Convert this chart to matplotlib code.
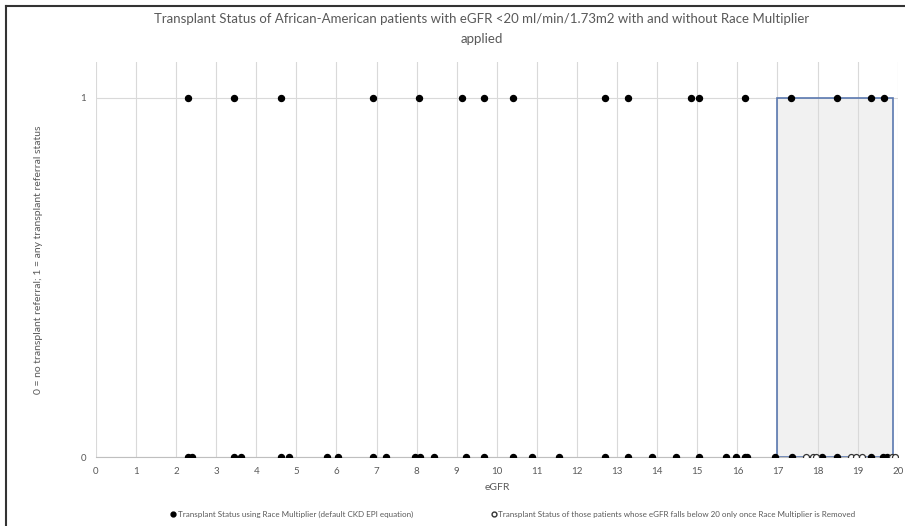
import matplotlib.pyplot as plt
from matplotlib.patches import Rectangle
from matplotlib.lines import Line2D

# eGFR of patients, split by transplant status (race multiplier applied)
egfr_status1 = [2.30, 3.45, 4.61, 6.92, 8.06, 9.14, 9.67, 10.41, 12.71, 13.28,
                14.84, 15.03, 16.18, 17.34, 18.48, 19.33, 19.65]
egfr_status0 = [2.30, 2.40, 3.45, 3.62, 4.61, 4.82, 5.77, 6.03, 6.92, 7.23,
                7.96, 8.08, 8.44, 9.22, 9.67, 10.41, 10.87, 11.55, 12.71, 13.28,
                13.87, 14.48, 15.03, 15.72, 15.96, 16.19, 16.24, 16.95, 17.36,
                18.10, 18.48, 19.33, 19.63, 19.72]
# patients below 20 only once the race multiplier is removed (all status 0)
egfr_removed = [17.72, 17.88, 17.97, 18.83, 18.97, 19.12, 19.85, 19.93]

box_lo, box_hi = 17, 19.88
x_ticks = list(range(0, 21))
y_ticks = [0, 1]

title = ("Transplant Status of African-American patients with eGFR <20 ml/min/1.73m2 "
         "with and without Race Multiplier\napplied")
label_1 = "Transplant Status using Race Multiplier (default CKD EPI equation)"
label_2 = "Transplant Status of those patients whose eGFR falls below 20 only once Race Multiplier is Removed"

plt.rcParams['font.family'] = ['Lato', 'DejaVu Sans']
gray = '#595959'

fig = plt.figure(figsize=(9.05, 5.26), dpi=100)
ax = fig.add_axes([0.106, 0.131, 0.886, 0.751])

# highlighted region
ax.add_patch(Rectangle((box_lo, 0), box_hi - box_lo, 1, facecolor='#d9d9d9', alpha=0.35,
                       edgecolor='none', zorder=1))
ax.add_patch(Rectangle((box_lo, 0), box_hi - box_lo, 1, facecolor='none',
                       edgecolor='#5a78b0', lw=1.2, zorder=2))

ax.plot(egfr_status1, [1] * len(egfr_status1), 'o', color='black', ms=4.3, zorder=4)
ax.plot(egfr_status0, [0] * len(egfr_status0), 'o', color='black', ms=4.3, zorder=4)
ax.plot(egfr_removed, [0] * len(egfr_removed), 'o', mfc='white', mec='#333333',
        mew=0.9, ms=4.3, zorder=5)

ax.set_xlim(0, 20)
ax.set_ylim(0, 1.1)
ax.set_xticks(x_ticks)
ax.set_yticks(y_ticks)
ax.grid(True, color='#d9d9d9', lw=0.8, zorder=0)
ax.set_axisbelow(True)
for s in ['top', 'right', 'left']:
    ax.spines[s].set_visible(False)
ax.spines['bottom'].set_color('#bfbfbf')
ax.tick_params(length=0, labelsize=7, labelcolor=gray, pad=7)

ax.set_xlabel("eGFR", fontsize=7.5, color=gray, labelpad=5)
ax.set_ylabel("0 = no transplant referral; 1 = any transplant referral status",
              fontsize=7.5, color=gray, labelpad=27)
fig.text(0.532, 0.945, title, ha='center', va='center', fontsize=9.5,
         color=gray, linespacing=1.75)

handles = [Line2D([], [], ls='none', marker='o', color='black', ms=3.5),
           Line2D([], [], ls='none', marker='o', mfc='white', mec='#333333', ms=3.5)]
fig.legend(handles, [label_1, label_2], loc='center', bbox_to_anchor=(0.566, 0.022),
           ncol=2, frameon=False, fontsize=5.8, labelcolor=gray, handletextpad=0.1,
           columnspacing=9.5, handlelength=1)

# outer frame
fig.add_artist(Line2D([0.007, 0.007], [0, 0.988], transform=fig.transFigure, color='#333333', lw=1.5))
fig.add_artist(Line2D([0.007, 1], [0.988, 0.988], transform=fig.transFigure, color='#333333', lw=1.5))

fig.savefig('out.png', dpi=100)
